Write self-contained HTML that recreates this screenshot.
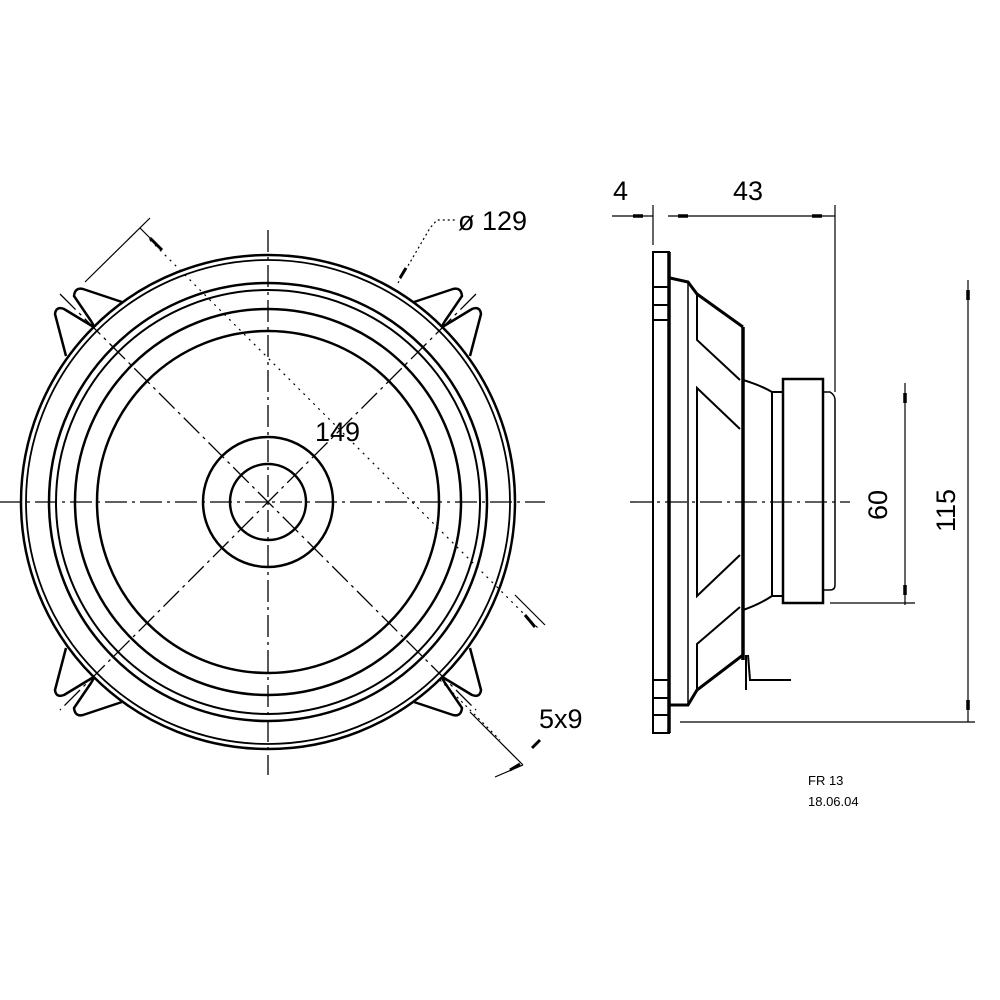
<!DOCTYPE html>
<html><head><style>html,body{margin:0;padding:0;background:#fff}svg{display:block}</style></head>
<body>
<svg width="1000" height="1000" viewBox="0 0 1000 1000" xmlns="http://www.w3.org/2000/svg" font-family="Liberation Sans, sans-serif">
<g fill="none" stroke="#000">
<g stroke-width="2.5">
<circle cx="268" cy="502" r="247"/>
<circle cx="268" cy="502" r="242" stroke-width="1.8"/>
<circle cx="268" cy="502" r="219"/>
<circle cx="268" cy="502" r="212" stroke-width="2"/>
<circle cx="268" cy="502" r="193"/>
<circle cx="268" cy="502" r="171"/>
<circle cx="268" cy="502" r="65"/>
<circle cx="268" cy="502" r="38"/>
</g>
<g stroke-width="2.5" stroke-linejoin="round">
<path id="tab" d="M66,356 L55,314 Q56,306 64,309 L92,326 Q96,329 91,321 L74,296 Q75,287 83,289 L122,302"/>
<use href="#tab" transform="translate(536,0) scale(-1,1)"/>
<use href="#tab" transform="translate(0,1004) scale(1,-1)"/>
<use href="#tab" transform="translate(536,1004) scale(-1,-1)"/>
</g>
<g stroke-width="1.3" stroke-dasharray="22,5,3,5">
<line x1="0" y1="502" x2="545" y2="502"/>
<line x1="268" y1="230" x2="268" y2="775"/>
<line x1="60" y1="294" x2="476" y2="710"/>
<line x1="476" y1="294" x2="60" y2="710"/>
</g>
<line x1="150" y1="240" x2="540" y2="630" stroke-width="1.2" stroke-dasharray="2,5"/>
<line x1="85" y1="282" x2="150" y2="218" stroke-width="1.2"/>
<line x1="140" y1="228" x2="160" y2="248" stroke-width="1.2"/>
<path d="M150,238 l12,12" stroke-width="3"/>
<line x1="515" y1="595" x2="545" y2="625" stroke-width="1.2"/>
<path d="M525,615 l10,12" stroke-width="3"/>
<line x1="470" y1="712" x2="523" y2="765" stroke-width="1.2"/>
<line x1="440" y1="680" x2="500" y2="740" stroke-width="1.2" stroke-dasharray="2,4"/>
<line x1="495" y1="777" x2="523" y2="765" stroke-width="1.2"/>
<path d="M510,770 l10,-6" stroke-width="3"/>
<path d="M532,748 l8,-8" stroke-width="3"/>
<path d="M398,283 L430,228 L437,220 L455,220" stroke-width="1.2" stroke-dasharray="2,3"/>
<path d="M400,278 l6,-10" stroke-width="3"/>

<g stroke-width="2">
<rect x="653" y="252" width="16" height="481" stroke-width="2"/>
<line x1="669" y1="252" x2="669" y2="733" stroke-width="3.5"/>
<line x1="653" y1="287" x2="669" y2="287"/>
<line x1="653" y1="305" x2="669" y2="305"/>
<line x1="653" y1="320" x2="669" y2="320"/>
<line x1="653" y1="680" x2="669" y2="680"/>
<line x1="653" y1="698" x2="669" y2="698"/>
<line x1="653" y1="715" x2="669" y2="715"/>
<path d="M670,278 L688,282 L697,294 L743,327" stroke-width="3"/>
<path d="M670,705 L688,705 L697,690 L743,655" stroke-width="3"/>
<line x1="688" y1="282" x2="688" y2="705" stroke-width="1.5"/>
<line x1="743" y1="327" x2="743" y2="660" stroke-width="3.5"/>
<path d="M697,294 L697,340 L740,380"/>
<path d="M740,429 L697,388 L697,596 L740,555"/>
<path d="M697,690 L697,644 L740,607"/>
<path d="M743,380 Q760,385 772,392"/>
<path d="M743,610 Q760,604 772,596"/>
<rect x="772" y="392" width="11" height="204"/>
<rect x="783" y="379" width="40" height="224" stroke-width="2.5"/>
<path d="M823,392 L830,392 Q835,395 835,400 L835,585 Q835,590 830,590 L823,590" stroke-width="1.5"/>
<path d="M746,655 L746,690 M748,655 L750,680 L791,680" stroke-width="2"/>
</g>
<line x1="630" y1="502" x2="850" y2="502" stroke-width="1.3" stroke-dasharray="22,5,3,5"/>
<g stroke-width="1.2">
<line x1="612" y1="216" x2="653" y2="216"/>
<line x1="653" y1="205" x2="653" y2="245"/>
<line x1="668" y1="216" x2="835" y2="216"/>
<line x1="835" y1="205" x2="835" y2="392"/>
<line x1="905" y1="383" x2="905" y2="605"/>
<line x1="830" y1="603" x2="915" y2="603"/>
<line x1="968" y1="280" x2="968" y2="722"/>
<line x1="680" y1="722" x2="975" y2="722"/>
</g>
<g stroke-width="3.5">
<path d="M633,216 h10 M678,216 h10 M812,216 h10 M905,393 v10 M905,585 v10 M968,290 v10 M968,700 v10"/>
</g>
</g>
<g font-size="27" fill="#000">
<text x="613" y="200">4</text>
<text x="733" y="200">43</text>
<text x="458" y="230">ø 129</text>
<text x="315" y="441">149</text>
<text x="539" y="728">5x9</text>
<text transform="translate(887,520) rotate(-90)">60</text>
<text transform="translate(955,532) rotate(-90)">115</text>
</g>
<g font-size="13" fill="#000">
<text x="808" y="785">FR 13</text>
<text x="808" y="806">18.06.04</text>
</g>
</svg>
</body></html>
